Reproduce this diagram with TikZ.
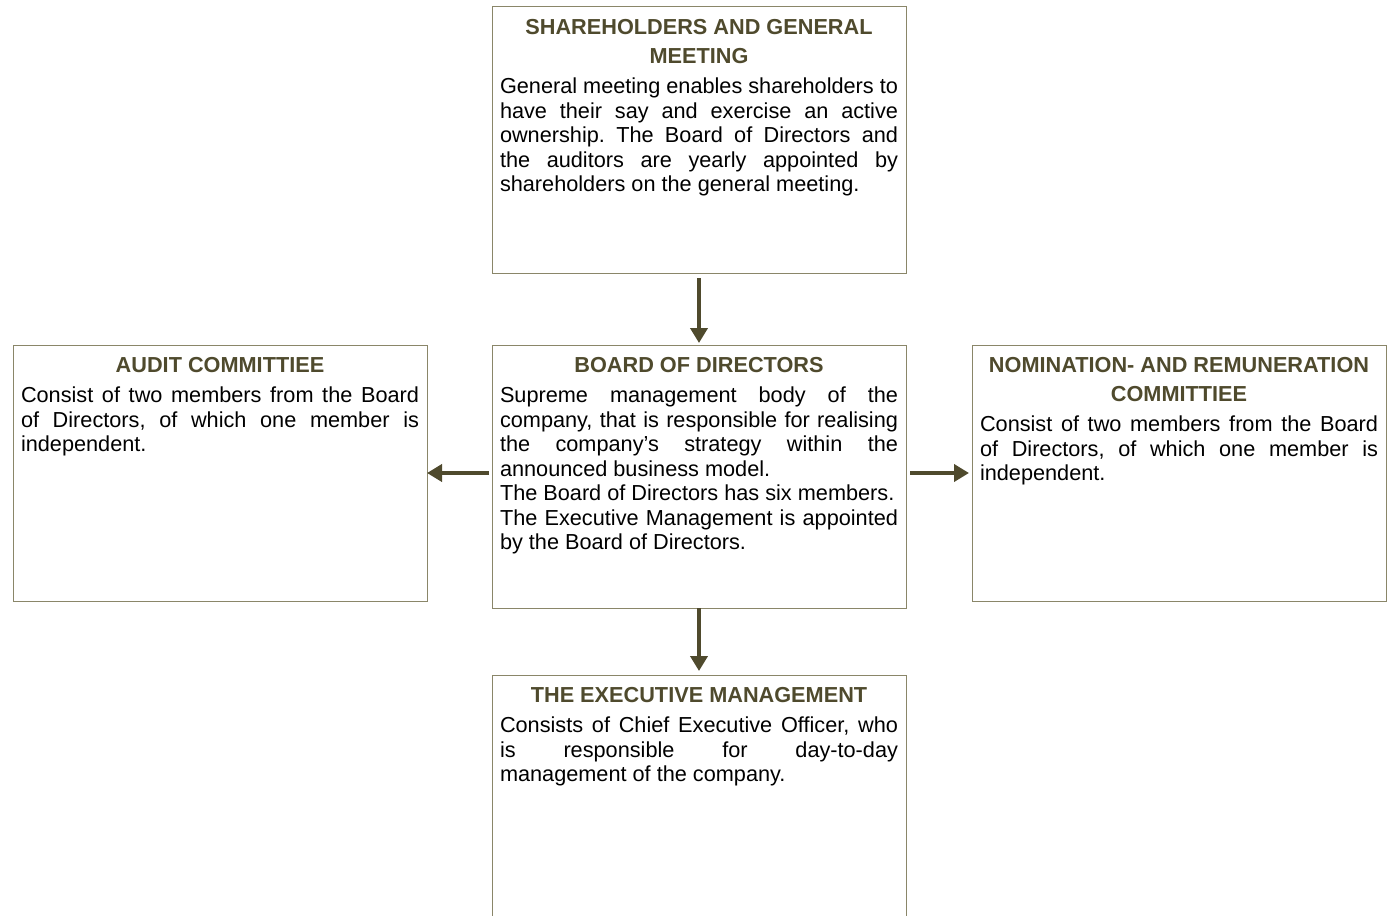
\documentclass[tikz,border=0pt]{standalone}
\usepackage{fontspec}
\setmainfont{Liberation Sans}
\usepackage{tikz}
\definecolor{olivedrk}{HTML}{4F4A2D}
\definecolor{olivebdr}{HTML}{8A8669}
\usetikzlibrary{arrows.meta,positioning}
\setlength{\parindent}{0pt}
\frenchspacing
\tolerance=10000
\hyphenpenalty=10000
\newcommand{\hd}[1]{{\centering\fontsize{10.85}{14.5}\selectfont\bfseries\color{olivedrk}#1\par}\vspace{2.75pt}}
\tikzset{
	frame/.style={rectangle, draw=olivebdr, line width=0.5pt, minimum width=207pt, inner sep=0pt, outer sep=0pt},
	caption/.style={inner sep=0pt, text width=199pt, align=justify, font=\fontsize{10.85}{12.25}\selectfont},
	arr/.style={-{Triangle[width=8.5pt,length=7.5pt]}, line width=2pt, color=olivedrk},
}

\begin{document}
\begin{tikzpicture}
		\useasboundingbox (0,0) rectangle (697.5pt,-457.5pt);
		\node[frame, minimum height=133pt, anchor=north] (sh) at (349.5pt,-3.5pt) {};
		\node[caption, below=6.2pt of sh.north] (shc) {\hd{SHAREHOLDERS AND GENERAL\\MEETING}General meeting enables shareholders to\linebreak have their say and exercise an active\linebreak ownership. The Board of Directors and\linebreak the auditors are yearly appointed by\linebreak shareholders on the general meeting.};
		\node[frame, minimum height=131.5pt, below=36pt of sh] (bd) {};
		\node[caption, below=6.2pt of bd.north] (bdc) {\hd{BOARD OF DIRECTORS}Supreme management body of the\linebreak company, that is responsible for realising\linebreak the company's strategy within the\linebreak announced business model.\par The Board of Directors has six members.\par The Executive Management is appointed\linebreak by the Board of Directors.};
		\node[frame, minimum height=128pt, left=32.5pt of bd.north west, anchor=north east] (ac) {};
		\node[caption, below=6.2pt of ac.north] (acc) {\hd{AUDIT COMMITTIEE}Consist of two members from the Board\linebreak of Directors, of which one member is\linebreak independent.};
		\node[frame, minimum height=128pt, right=33pt of bd.north east, anchor=north west] (nr) {};
		\node[caption, below=6.2pt of nr.north] (nrc) {\hd{NOMINATION- AND REMUNERATION\\COMMITTIEE}Consist of two members from the Board\linebreak of Directors, of which one member is\linebreak independent.};
		\node[frame, minimum height=140pt, below=33.5pt of bd] (em) {};
		\node[caption, below=6.2pt of em.north] (emc) {\hd{THE EXECUTIVE MANAGEMENT}Consists of Chief Executive Officer, who\linebreak is responsible for day-to-day\linebreak management of the company.};
		
		\draw[arr, shorten <=2.5pt, shorten >=1pt] (sh) to (bd); % down
		\draw[arr, shorten >=2pt] (bd) to (em); % down
		\draw[arr, shorten <=1.5pt] (bd.west |- ac.east) to (ac.east); % left
		\draw[arr, shorten <=2pt, shorten >=1.5pt] (bd.east |- nr.west) to (nr.west); % right
	\end{tikzpicture}
\end{document}
